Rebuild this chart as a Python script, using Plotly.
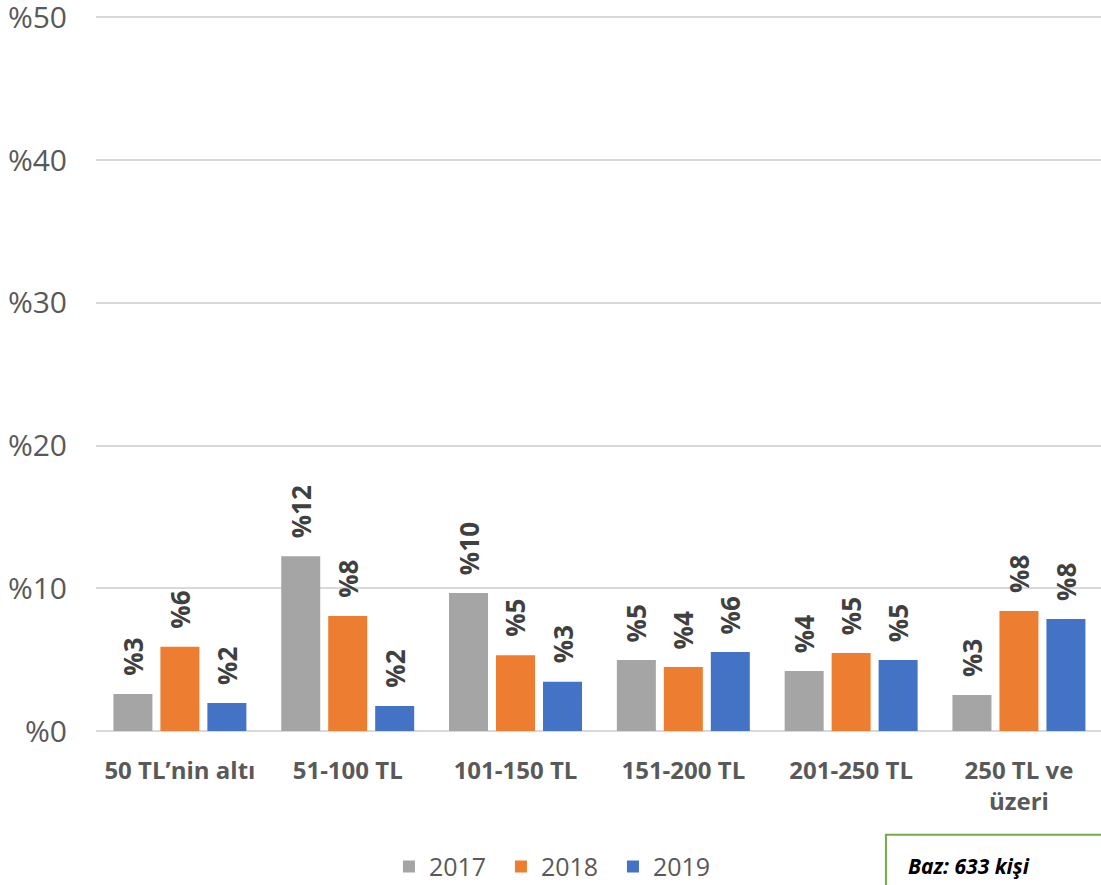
import plotly.graph_objects as go

# ---- data ----
categories = ["50 TL’nin altı", "51-100 TL", "101-150 TL", "151-200 TL",
              "201-250 TL", "250 TL ve<br>üzeri"]
v2017 = [2.6, 12.25, 9.66, 4.97, 4.2, 2.52]
v2018 = [5.9, 8.05, 5.3, 4.48, 5.46, 8.4]
v2019 = [1.96, 1.75, 3.45, 5.53, 4.97, 7.84]
years = ["2017", "2018", "2019"]
colors = ["#A5A5A5", "#ED7D31", "#4472C4"]
y_ticks = [0, 10, 20, 30, 40, 50]

FONT = "'Open Sans', sans-serif"
series = [v2017, v2018, v2019]

fig = go.Figure()
for name, vals, col in zip(years, series, colors):
    fig.add_trace(go.Bar(name=name, x=categories, y=vals,
                         marker=dict(color=col, line=dict(width=0))))

# rotated value labels above each bar (offset = one bar slot in pixels)
slot_px = 47
for i, vals in enumerate(series):
    for cat, v in zip(categories, vals):
        fig.add_annotation(x=cat, y=v, text="<b>%" + format(v, ".0f") + "</b>",
                           textangle=-90, showarrow=False,
                           xanchor="center", yanchor="bottom",
                           xshift=(i - 1) * slot_px, yshift=16,
                           font=dict(family=FONT, size=26, color="#404040"))

fig.update_layout(
    width=1101, height=885,
    margin=dict(l=96, r=0, t=13, b=154),
    paper_bgcolor="white", plot_bgcolor="white",
    barmode="group", bargap=0.16, bargroupgap=0.17,
    font=dict(family=FONT, color="#595959"),
    showlegend=True,
    # legend placed against the whole figure so it does not push the margins
    legend=dict(orientation="h", x=0.2915, xanchor="left",
                yref="container", y=0.0205, yanchor="middle",
                font=dict(size=25, color="#595959"), itemwidth=30,
                entrywidth=67, entrywidthmode="pixels", traceorder="normal"),
)
fig.update_yaxes(range=[0, 50.3], tickvals=y_ticks, ticktext=["%" + str(t) for t in y_ticks],
                 showgrid=True, gridcolor="#D9D9D9", gridwidth=1.5,
                 zeroline=True, zerolinecolor="#D9D9D9", zerolinewidth=1.5,
                 tickfont=dict(size=30, color="#595959"), ticklabelstandoff=28,
                 ticklabeloverflow="allow", showline=False, automargin=False)
fig.update_xaxes(range=[-0.5, 5.489],
                 tickfont=dict(size=24, color="#595959", weight="bold"),
                 ticklabelstandoff=23, showline=False, ticks="", automargin=False)

# base box
fig.add_shape(type="rect", xref="paper", yref="paper",
              x0=0.786, x1=1.1, y0=-0.3, y1=-0.1445,
              line=dict(color="#70AD47", width=2), fillcolor="white")
fig.add_annotation(text="<b><i>Baz: 633 kişi</i></b>", xref="paper", yref="paper",
                   x=0.806, y=-0.188, xanchor="left", yanchor="middle", showarrow=False,
                   font=dict(size=21, color="black", family=FONT))

# no page margin, so the 1101x885 figure fills the window exactly
fig.write_html("out.html", config={"displayModeBar": False},
               post_script="document.body.style.margin='0';"
                           "document.documentElement.style.overflow='hidden';")
